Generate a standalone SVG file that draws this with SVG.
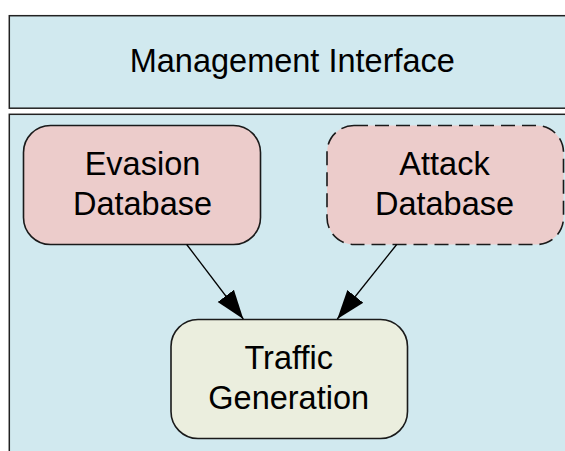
<svg xmlns="http://www.w3.org/2000/svg" width="565" height="451" viewBox="0 0 565 451">
<style>
.c{fill:#d1e9ef;stroke:#222;stroke-width:1.5}
.n{stroke:#1a1a1a;stroke-width:1.6}
.db{fill:#eccccb}
.tg{fill:#ebeede}
.t{font-family:"Liberation Sans",Arial,sans-serif;font-size:32.5px;fill:#000;text-anchor:middle}
.e{stroke:#000;stroke-width:1.3;fill:none}
</style>
<defs>
<marker id="ah" markerUnits="userSpaceOnUse" markerWidth="30" markerHeight="22" viewBox="0 0 28 20" refX="27" refY="10" orient="auto">
<path d="M0,0.5 L27,10 L0,19.5 Z" fill="#000"/>
</marker>
</defs>
<g id="management-interface">
<rect class="c" x="9.3" y="15.7" width="570" height="92.5"/>
<text class="t" x="292.3" y="72">Management Interface</text>
</g>
<g id="system-container">
<rect class="c" x="9.3" y="114.3" width="570" height="350"/>
</g>
<g id="evasion-database">
<rect class="n db" x="23.5" y="125.5" width="237" height="119" rx="27" ry="27"/>
<text class="t" x="142.5" y="175">Evasion</text>
<text class="t" x="142.5" y="214.5">Database</text>
</g>
<g id="attack-database">
<rect class="n db" x="327" y="125.5" width="236.5" height="119" rx="27" ry="27" stroke-dasharray="14,7" stroke-width="2"/>
<text class="t" x="444.5" y="175">Attack</text>
<text class="t" x="444.5" y="214.5">Database</text>
</g>
<g id="traffic-generation">
<rect class="n tg" x="171" y="319.5" width="236.5" height="119" rx="27" ry="27"/>
<text class="t" x="288.7" y="368.5">Traffic</text>
<text class="t" x="288.7" y="408.5">Generation</text>
</g>
<g id="connectors">
<path class="e" d="M186.7,244.5 L243.3,319" marker-end="url(#ah)"/>
<path class="e" d="M396.7,244.5 L337.3,319" marker-end="url(#ah)"/>
</g>
</svg>
